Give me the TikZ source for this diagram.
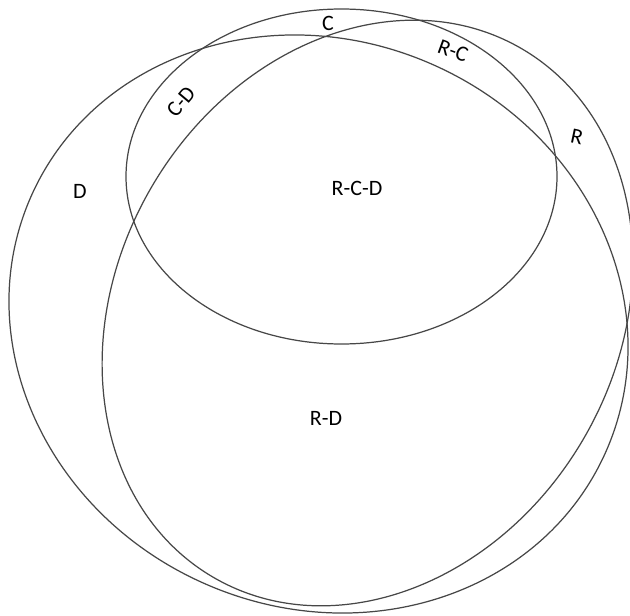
\documentclass[tikz,border=0pt]{standalone}
\usepackage{fontspec}
\setmainfont{Carlito}

\begin{document}
\begin{tikzpicture}[x=0.2mm, y=0.2mm,
    setline/.style={draw=black!72, line width=0.7pt},
    lbl/.style={font=\fontsize{12.5}{15}\selectfont, inner sep=0pt}]
      \useasboundingbox (0,0) rectangle (630,615);
      % the three sets
      \draw[setline] (341.5,438.5) ellipse [x radius=215.5, y radius=167.5];
      \draw[setline] (318.5,291) ellipse [x radius=314.5, y radius=283.5, rotate=-24.3];
      \draw[setline] (367.5,302) ellipse [x radius=306, y radius=250, rotate=59.7];
      % region labels
      \node[lbl] (c) at (328,592) {C};
      \node[lbl, rotate=-20] (rc) at (453,564) {R-C};
      \node[lbl, rotate=50] (cd) at (181,513) {C-D};
      \node[lbl, rotate=-12] (r) at (577,478) {R};
      \node[lbl] (d) at (80,424) {D};
      \node[lbl] (rcd) at (357,427) {R-C-D};
      \node[lbl] (rd) at (326,197) {R-D};
    \end{tikzpicture}
\end{document}
